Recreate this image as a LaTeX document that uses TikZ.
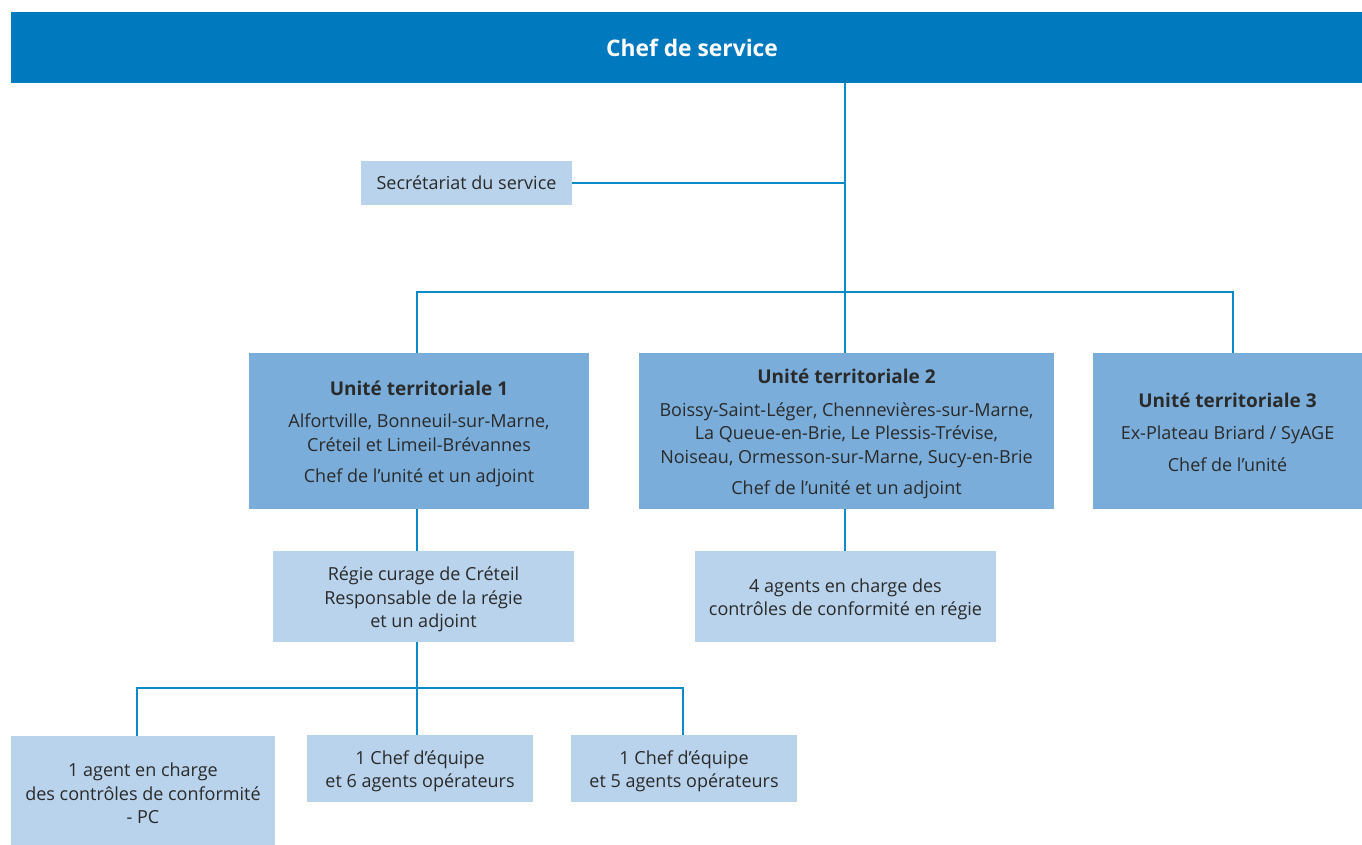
\documentclass[tikz,border=0pt]{standalone}
\usepackage{fontspec}
\setmainfont{Open Sans}
\definecolor{hdr}{HTML}{0079BE}
\definecolor{ut}{HTML}{7AADD9}
\definecolor{lt}{HTML}{B8D3EB}
\definecolor{ln}{HTML}{0A8AC8}
\definecolor{txt}{HTML}{2A2A2A}
\tikzset{
  box/.style={rectangle, inner sep=0pt, align=center, text=txt, font=\fontsize{18}{23.5}\selectfont},
  utbox/.style={box, fill=ut},
  ltbox/.style={box, fill=lt},
  lbl/.style={box, yshift=-3pt},
  conn/.style={draw=ln, line width=2.5pt},
}
\newcommand{\uttitle}[1]{{\fontsize{19}{22}\selectfont\bfseries #1}}
\begin{document}
\begin{tikzpicture}[x=1pt,y=-1pt]
\useasboundingbox (0,0) rectangle (1362,845);
% boxes
\node[box, fill=hdr, text=white, minimum width=1362pt, minimum height=71pt, font=\fontsize{22.8}{26}\selectfont\bfseries] (chef) at (692,47.5) {Chef de service};
\node[ltbox, minimum width=211pt, minimum height=44pt] (sec) at (466.5,183) {Secrétariat du service};
\node[utbox, minimum width=340pt, minimum height=156pt] (ut1) at (419,431) {};
\node[utbox, minimum width=415pt, minimum height=156pt] (ut2) at (846.5,431) {};
\node[utbox, minimum width=269pt, minimum height=156pt] (ut3) at (1227.5,431) {};
\node[ltbox, minimum width=301pt, minimum height=91pt] (regie) at (423.5,596.5) {};
\node[ltbox, minimum width=301pt, minimum height=91pt] (agents) at (845.5,596.5) {};
\node[ltbox, minimum width=264pt, minimum height=109pt] (a1) at (143,790.5) {};
\node[ltbox, minimum width=226pt, minimum height=67pt] (a6) at (420,768.5) {};
\node[ltbox, minimum width=226pt, minimum height=67pt] (a5) at (684,768.5) {};
% texts
\node[lbl] (ut1t) at (ut1.center) {\uttitle{Unité territoriale 1}\\[9pt]Alfortville, Bonneuil-sur-Marne,\\Créteil et Limeil-Brévannes\\[8pt]Chef de l’unité et un adjoint};
\node[lbl] (ut2t) at (ut2.center) {\uttitle{Unité territoriale 2}\\[9pt]Boissy-Saint-Léger, Chennevières-sur-Marne,\\La Queue-en-Brie, Le Plessis-Trévise,\\Noiseau, Ormesson-sur-Marne, Sucy-en-Brie\\[8pt]Chef de l’unité et un adjoint};
\node[lbl, yshift=2pt] (ut3t) at (ut3.center) {\uttitle{Unité territoriale 3}\\[9pt]Ex-Plateau Briard / SyAGE\\[8pt]Chef de l’unité};
\node[lbl] (regiet) at (regie.center) {Régie curage de Créteil\\Responsable de la régie\\et un adjoint};
\node[lbl] (agentst) at (agents.center) {4 agents en charge des\\contrôles de conformité en régie};
\node[lbl] (a1t) at (a1.center) {1 agent en charge\\des contrôles de conformité\\- PC};
\node[lbl] (a6t) at (a6.center) {1 Chef d’équipe\\et 6 agents opérateurs};
\node[lbl] (a5t) at (a5.center) {1 Chef d’équipe\\et 5 agents opérateurs};
% junction coordinates
\coordinate (j1) at (845,183);
\coordinate (j2) at (845,292);
\coordinate (j3) at (417,688);
% connectors
\draw[conn] (chef.south -| j2) -- (j2);
\draw[conn] (sec.east) -- (j1);
\draw[conn] (ut1.north -| j3) |- (j2) -| (ut3.north -| 1233,0);
\draw[conn] (j2) -- (ut2.north -| j2);
\draw[conn] (ut1.south -| j3) -- (regie.north -| j3);
\draw[conn] (ut2.south -| j2) -- (agents.north -| j2);
\draw[conn] (regie.south -| j3) -- (j3);
\draw[conn] (a1.north -| 137,0) |- (j3) -| (a5.north -| 683,0);
\draw[conn] (j3) -- (a6.north -| j3);
\end{tikzpicture}
\end{document}
